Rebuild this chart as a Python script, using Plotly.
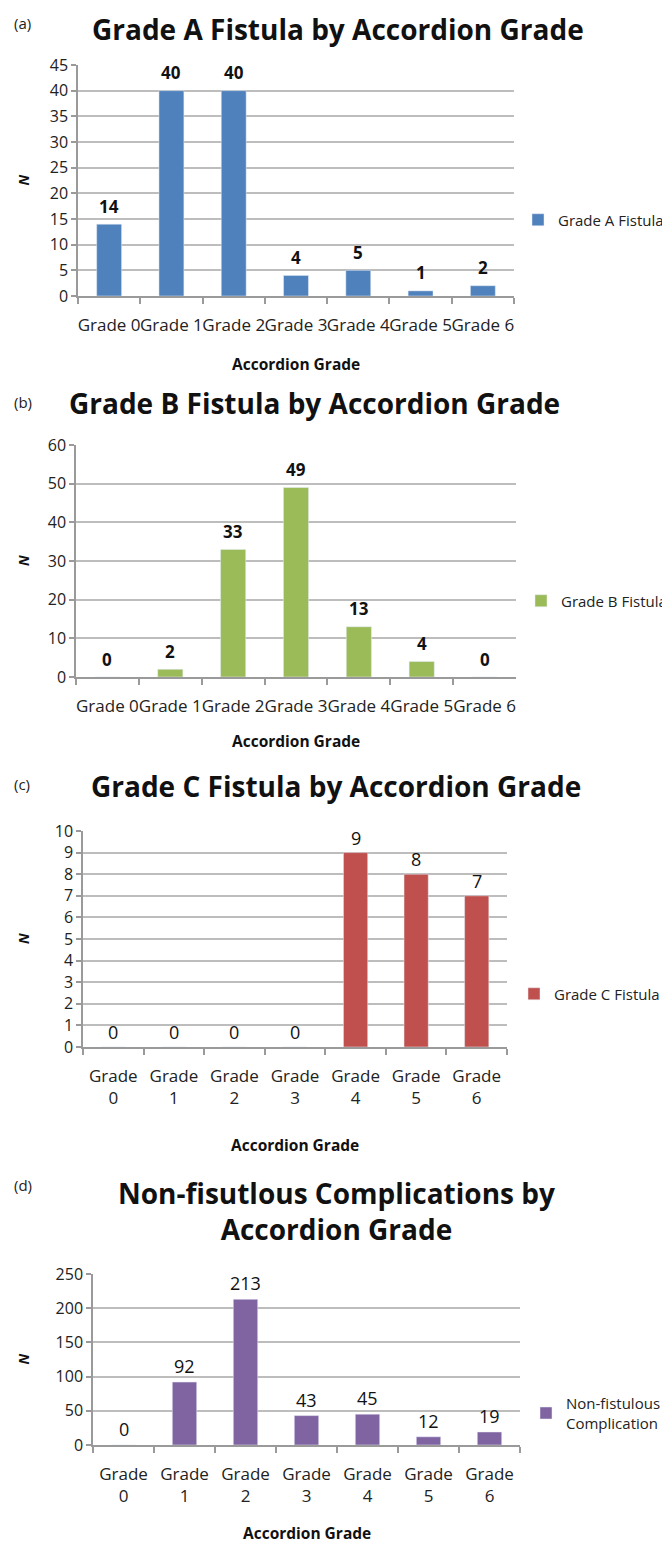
import plotly.graph_objects as go

W, H = 670, 1542

cats_single = ["Grade 0", "Grade 1", "Grade 2", "Grade 3", "Grade 4", "Grade 5", "Grade 6"]
cats_wrapped = ["Grade<br>0", "Grade<br>1", "Grade<br>2", "Grade<br>3", "Grade<br>4", "Grade<br>5", "Grade<br>6"]

grade_a = [14, 40, 40, 4, 5, 1, 2]
grade_b = [0, 2, 33, 49, 13, 4, 0]
grade_c = [0, 0, 0, 0, 9, 8, 7]
non_fist = [0, 92, 213, 43, 45, 12, 19]

panels = [
    dict(letter="(a)", title="Grade A Fistula by Accordion Grade", name="Grade A Fistula",
         vals=grade_a, cats=cats_single, color="#4F81BD", ymax=45, dtick=5,
         x0=70, x1=506, top=57, bot=288, title_y=21, title_x=330, letter_y=15,
         xt_y=356, leg_x=510, leg_y=212, bold=True, lab_font=17, lab_shift=18),
    dict(letter="(b)", title="Grade B Fistula by Accordion Grade", name="Grade B Fistula",
         vals=grade_b, cats=cats_single, color="#9BBB59", ymax=60, dtick=10,
         x0=68, x1=508, top=437, bot=669, title_y=395, title_x=306, letter_y=394,
         xt_y=733, leg_x=513, leg_y=593, bold=True, lab_font=17, lab_shift=18),
    dict(letter="(c)", title="Grade C Fistula by Accordion Grade", name="Grade C Fistula",
         vals=grade_c, cats=cats_wrapped, color="#C0504D", ymax=10, dtick=1,
         x0=75, x1=499, top=823, bot=1039, title_y=778, title_x=328, letter_y=776,
         xt_y=1137, leg_x=506, leg_y=986, bold=False, lab_font=18, lab_shift=15),
    dict(letter="(d)", title="Non-fisutlous Complications by<br>Accordion Grade",
         name="Non-fistulous<br>Complication",
         vals=non_fist, cats=cats_wrapped, color="#8064A2", ymax=250, dtick=50,
         x0=85, x1=512, top=1266, bot=1437, title_y=1203, title_x=328, letter_y=1177,
         xt_y=1525, leg_x=518, leg_y=1405, bold=False, lab_font=18, lab_shift=16),
]

FONT = "Open Sans"
fig = go.Figure()
annotations = []
layout = {}

for i, p in enumerate(panels):
    k = "" if i == 0 else str(i + 1)
    xa, ya = "x" + k, "y" + k
    leg = "legend" + k
    fig.add_trace(go.Bar(
        x=p["cats"], y=p["vals"], name=p["name"], marker_color=p["color"],
        xaxis=xa, yaxis=ya, legend=leg, showlegend=True,
    ))
    layout["xaxis" + k] = dict(
        domain=[p["x0"] / W, p["x1"] / W], anchor=ya,
        showline=True, linecolor="#9a9a9a", linewidth=1.5,
        ticks="outside", tickson="boundaries", ticklen=6, tickcolor="#9a9a9a", tickwidth=1.5,
        showgrid=False, tickfont=dict(family=FONT, size=17, color="#222"),
        ticklabelstandoff=13, tickangle=0, automargin=False, fixedrange=True,
    )
    layout["yaxis" + k] = dict(
        domain=[1 - p["bot"] / H, 1 - p["top"] / H], anchor=xa,
        range=[0, p["ymax"]], dtick=p["dtick"], tick0=0,
        showline=True, linecolor="#9a9a9a", linewidth=1.5,
        ticks="outside", ticklen=5, tickcolor="#9a9a9a", tickwidth=1.5,
        showgrid=True, gridcolor="#bdbdbd", gridwidth=1.5,
        tickfont=dict(family=FONT, size=16, color="#222"), zeroline=False,
        automargin=False, fixedrange=True,
    )
    layout[leg] = dict(
        x=p["leg_x"] / W, y=1 - p["leg_y"] / H, xanchor="left", yanchor="middle",
        font=dict(family=FONT, size=15, color="#222"), bgcolor="rgba(0,0,0,0)",
        itemwidth=30, tracegroupgap=0,
    )
    # data labels
    for c, v in zip(p["cats"], p["vals"]):
        txt = f"<b>{v}</b>" if p["bold"] else str(v)
        annotations.append(dict(
            x=c, y=v, xref=xa, yref=ya, text=txt, showarrow=False,
            yanchor="middle", yshift=p["lab_shift"],
            font=dict(family=FONT, size=p["lab_font"], color="#111"),
        ))
    # panel letter
    annotations.append(dict(
        x=4 / W, y=1 - p["letter_y"] / H, xref="paper", yref="paper", text=p["letter"],
        showarrow=False, xanchor="left", yanchor="middle",
        font=dict(family=FONT, size=15, color="#222"),
    ))
    # title
    annotations.append(dict(
        x=p["title_x"] / W, y=1 - p["title_y"] / H, xref="paper", yref="paper",
        text="<b>" + p["title"] + "</b>", showarrow=False,
        xanchor="center", yanchor="middle",
        font=dict(family=FONT, size=28, color="#111"),
    ))
    # y title
    annotations.append(dict(
        x=15 / W, y=1 - (p["top"] + p["bot"]) / 2 / H, xref="paper", yref="paper",
        text="<b><i>N</i></b>", showarrow=False, textangle=-90,
        xanchor="center", yanchor="middle",
        font=dict(family=FONT, size=14, color="#111"),
    ))
    # x title
    annotations.append(dict(
        x=(p["x0"] + p["x1"]) / 2 / W, y=1 - p["xt_y"] / H, xref="paper", yref="paper",
        text="<b>Accordion Grade</b>", showarrow=False,
        xanchor="center", yanchor="middle",
        font=dict(family=FONT, size=15.5, color="#111"),
    ))

fig.update_layout(
    width=W, height=H, margin=dict(l=0, r=0, t=0, b=0, autoexpand=False),
    paper_bgcolor="white", plot_bgcolor="white",
    bargap=0.6, annotations=annotations, **layout,
)

fig.write_html("out.html")
